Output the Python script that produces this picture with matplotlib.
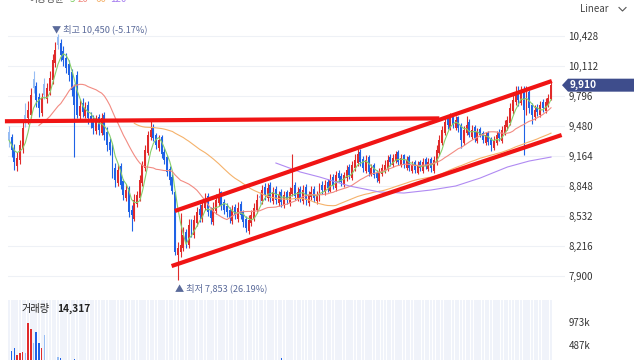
import numpy as np
import pandas as pd
import matplotlib
matplotlib.use("Agg")
import matplotlib.pyplot as plt
from matplotlib.patches import Polygon
from matplotlib.lines import Line2D
from matplotlib.transforms import blended_transform_factory

plt.rcParams['font.family'] = ['Noto Sans CJK KR', 'DejaVu Sans']

# daily candles (oldest -> newest)
opens = [9420, 9360, 9250, 9060, 9120, 9250, 9600, 9560, 9600, 9980,
         9900, 9790, 9620, 9920, 9760, 9850, 9960, 10140, 10420, 10350,
         10270, 10200, 10130, 10050, 9890, 10020, 9590, 9720, 9590, 9700,
         9590, 9550, 9430, 9580, 9410, 9600, 9420, 9310, 9260, 9040,
         8880, 9060, 8900, 8720, 8830, 8600, 8500, 8660, 8720, 8880,
         9040, 9200, 9360, 9470, 9380, 9250, 9360, 9210, 9150, 9030,
         8940, 8780, 8120, 8150, 8190, 8360, 8230, 8470, 8330, 8460,
         8610, 8500, 8620, 8740, 8600, 8470, 8580, 8670, 8780, 8680,
         8640, 8600, 8480, 8630, 8500, 8660, 8570, 8500, 8370, 8460,
         8500, 8590, 8740, 8690, 8840, 8720, 8860, 8690, 8820, 8670,
         8780, 8650, 8780, 8670, 8760, 8860, 8710, 8820, 8690, 8840,
         8670, 8730, 8820, 8690, 8720, 8860, 8780, 8890, 8800, 8940,
         8830, 8990, 8950, 8860, 8930, 9050, 8930, 9040, 9090, 9210,
         9130, 9010, 9150, 8970, 9070, 8990, 8900, 8970, 9010, 9040,
         9150, 9070, 9110, 9210, 9070, 9170, 9040, 9150, 9010, 9100,
         8990, 9100, 9010, 9130, 9030, 9130, 9010, 9090, 9200, 9300,
         9410, 9550, 9460, 9590, 9460, 9570, 9490, 9300, 9410, 9520,
         9360, 9470, 9320, 9450, 9410, 9300, 9410, 9340, 9250, 9300,
         9420, 9320, 9410, 9470, 9510, 9640, 9730, 9850, 9720, 9870,
         9620, 9840, 9700, 9570, 9680, 9600, 9730, 9640, 9700, 9760]
highs = [9480, 9400, 9290, 9210, 9330, 9520, 9720, 9740, 9880, 10060,
         9940, 9830, 9830, 9990, 9930, 10060, 10240, 10360, 10450, 10400,
         10320, 10250, 10170, 10080, 9920, 10060, 9760, 9770, 9730, 9740,
         9630, 9600, 9600, 9610, 9620, 9630, 9470, 9350, 9290, 9090,
         9080, 9090, 8920, 8870, 8850, 8650, 8760, 8800, 8960, 9110,
         9280, 9430, 9530, 9500, 9410, 9380, 9390, 9250, 9170, 9060,
         8970, 8800, 8260, 8560, 8420, 8400, 8500, 8500, 8540, 8630,
         8660, 8700, 8770, 8770, 8630, 8680, 8760, 8830, 8800, 8710,
         8670, 8630, 8650, 8660, 8680, 8690, 8600, 8530, 8540, 8600,
         8670, 8760, 8790, 8860, 8880, 8880, 8890, 8840, 8850, 8800,
         8820, 8800, 8810, 8840, 9180, 8890, 8840, 8850, 8860, 8870,
         8800, 8850, 8850, 8800, 8880, 8900, 8910, 8920, 8970, 8970,
         9010, 9020, 8980, 9000, 9070, 9080, 9110, 9180, 9240, 9240,
         9160, 9170, 9170, 9080, 9090, 9020, 9040, 9080, 9120, 9170,
         9180, 9190, 9220, 9230, 9180, 9190, 9160, 9170, 9110, 9120,
         9110, 9120, 9140, 9150, 9140, 9150, 9160, 9280, 9380, 9480,
         9580, 9600, 9620, 9610, 9590, 9590, 9510, 9480, 9590, 9550,
         9490, 9490, 9460, 9470, 9430, 9420, 9430, 9360, 9370, 9430,
         9450, 9480, 9540, 9590, 9720, 9840, 9900, 9900, 9900, 9900,
         9900, 9860, 9720, 9700, 9710, 9740, 9760, 9780, 9820, 9950]
lows = [9260, 9150, 9020, 9010, 9080, 9200, 9470, 9500, 9560, 9830,
        9680, 9580, 9590, 9760, 9720, 9810, 9920, 10100, 10290, 10160,
        10110, 10040, 9950, 9800, 9150, 9560, 9550, 9580, 9560, 9500,
        9460, 9400, 9400, 9390, 9380, 9330, 9220, 9170, 8930, 8840,
        8850, 8820, 8700, 8690, 8520, 8370, 8480, 8630, 8690, 8850,
        9010, 9170, 9330, 9320, 9240, 9220, 9140, 9080, 8950, 8860,
        8760, 8120, 7853, 8100, 8160, 8200, 8200, 8310, 8300, 8430,
        8470, 8470, 8590, 8530, 8450, 8440, 8550, 8640, 8600, 8550,
        8520, 8460, 8450, 8500, 8470, 8500, 8420, 8360, 8340, 8430,
        8480, 8560, 8660, 8660, 8700, 8690, 8680, 8660, 8660, 8640,
        8630, 8620, 8660, 8640, 8740, 8700, 8690, 8680, 8660, 8650,
        8640, 8700, 8680, 8660, 8690, 8760, 8750, 8790, 8780, 8820,
        8800, 8890, 8850, 8840, 8900, 8920, 8910, 9010, 9060, 9060,
        9000, 8990, 8950, 8950, 8930, 8890, 8880, 8950, 8990, 9010,
        9060, 9050, 9090, 9070, 9050, 9040, 9020, 9010, 8990, 8990,
        8970, 9010, 8990, 9030, 9010, 9000, 8990, 9070, 9170, 9280,
        9380, 9450, 9440, 9460, 9440, 9420, 9250, 9280, 9390, 9360,
        9340, 9310, 9300, 9360, 9300, 9280, 9280, 9220, 9230, 9280,
        9320, 9300, 9390, 9440, 9490, 9610, 9700, 9690, 9700, 9170,
        9600, 9620, 9500, 9540, 9590, 9570, 9630, 9620, 9680, 9750]
closes = [9330, 9230, 9100, 9140, 9280, 9460, 9540, 9650, 9810, 9880,
          9750, 9670, 9780, 9810, 9880, 9990, 10180, 10280, 10330, 10230,
          10180, 10090, 10020, 9860, 9700, 9600, 9690, 9630, 9670, 9560,
          9520, 9460, 9540, 9440, 9560, 9390, 9280, 9230, 9000, 8910,
          9020, 8860, 8750, 8810, 8570, 8540, 8700, 8750, 8910, 9070,
          9230, 9390, 9440, 9350, 9280, 9330, 9180, 9120, 9000, 8910,
          8800, 8150, 8200, 8230, 8330, 8260, 8440, 8360, 8490, 8570,
          8540, 8650, 8700, 8570, 8510, 8620, 8700, 8750, 8650, 8600,
          8570, 8510, 8600, 8540, 8620, 8540, 8470, 8410, 8490, 8540,
          8620, 8700, 8720, 8810, 8750, 8830, 8720, 8790, 8700, 8750,
          8680, 8750, 8700, 8790, 8830, 8740, 8790, 8720, 8810, 8700,
          8750, 8790, 8720, 8750, 8830, 8810, 8860, 8830, 8910, 8860,
          8960, 8930, 8890, 8960, 9020, 8960, 9070, 9120, 9180, 9100,
          9040, 9120, 9000, 9040, 8960, 8930, 9000, 9040, 9070, 9120,
          9100, 9140, 9180, 9100, 9140, 9070, 9120, 9040, 9070, 9020,
          9070, 9040, 9100, 9060, 9100, 9040, 9120, 9230, 9330, 9440,
          9520, 9490, 9560, 9490, 9540, 9460, 9330, 9440, 9490, 9390,
          9440, 9350, 9420, 9390, 9330, 9380, 9310, 9280, 9330, 9390,
          9350, 9440, 9490, 9540, 9670, 9750, 9810, 9750, 9840, 9650,
          9810, 9670, 9600, 9650, 9630, 9700, 9670, 9730, 9780, 9910]
volumes = [150000, 365000, 423000, 275000, 317000, 338000, 317000, 951000, 824000, 528000,
           761000, 528000, 423000, 697000, 160000, 140000, 150000, 130000, 232000, 211000,
           120000, 110000, 130000, 150000, 190000, 140000, 100000, 90000, 85000, 95000,
           80000, 90000, 75000, 85000, 70000, 95000, 110000, 90000, 140000, 120000,
           100000, 110000, 130000, 90000, 150000, 160000, 120000, 90000, 110000, 130000,
           140000, 120000, 100000, 90000, 80000, 75000, 90000, 85000, 100000, 110000,
           150000, 165000, 160000, 130000, 110000, 90000, 100000, 80000, 85000, 90000,
           70000, 75000, 80000, 65000, 60000, 70000, 75000, 80000, 60000, 55000,
           60000, 65000, 55000, 50000, 60000, 55000, 65000, 70000, 60000, 55000,
           60000, 70000, 65000, 75000, 60000, 70000, 55000, 60000, 50000, 55000,
           211000, 90000, 60000, 65000, 150000, 70000, 60000, 55000, 60000, 50000,
           55000, 60000, 50000, 45000, 65000, 55000, 70000, 60000, 80000, 65000,
           90000, 70000, 60000, 75000, 85000, 70000, 95000, 100000, 110000, 80000,
           70000, 85000, 75000, 60000, 70000, 55000, 65000, 60000, 70000, 80000,
           65000, 70000, 75000, 60000, 55000, 65000, 60000, 70000, 55000, 50000,
           55000, 60000, 65000, 50000, 60000, 55000, 80000, 110000, 130000, 140000,
           150000, 120000, 110000, 100000, 95000, 90000, 120000, 85000, 90000, 80000,
           75000, 70000, 65000, 60000, 70000, 60000, 65000, 70000, 60000, 75000,
           65000, 80000, 90000, 100000, 140000, 150000, 130000, 110000, 120000, 160000,
           130000, 110000, 90000, 80000, 75000, 70000, 65000, 70000, 80000, 14317]

# 120-day average (needs history before the window)
ma120_idx = [98, 107, 114, 125, 136, 145, 155, 164, 173, 183, 191, 199]
ma120_val = [9090, 8995, 8943, 8848, 8785, 8774, 8806, 8848, 8932, 9048, 9111, 9153]

price_ticks = [7900, 8216, 8532, 8848, 9164, 9480, 9796, 10112, 10428]
vol_ticks = [487000, 973000]
vol_labels = ['487k', '973k']

# hand-drawn trend lines: (index, price) end points
support_x, support_y = [-1.5, 158], [9530, 9560]
chan_top_x, chan_top_y = [60.9, 199.3], [8585, 9954]
chan_bot_x, chan_bot_y = [59.7, 202.9], [8005, 9385]

last_price = 9910
hi_idx, hi_text = 18, '▼ 최고 10,450 (-5.17%)'
lo_idx, lo_text = 62, '▲ 최저 7,853 (26.19%)'
vol_title, vol_value = '거래량', '14,317'
legend_items = [('이동평균', '#555555'), ('5', '#7fcc63'), ('20', '#f28b82'),
                ('60', '#f5b26b'), ('120', '#a77ff0')]

RED, RED_L = '#e02b2b', '#f3a4a4'
BLUE, BLUE_L = '#1f62e6', '#97bdf4'

o = np.array(opens, float)
c = np.array(closes, float)
idx = np.arange(len(c))
prev = np.r_[c[0], c[:-1]]
up = c >= o
agree = (c >= prev) == up
colors = np.where(up, np.where(agree, RED, RED_L), np.where(agree, BLUE, BLUE_L))

s = pd.Series(closes, dtype=float)
ma5 = s.rolling(5, min_periods=1).mean()
ma20 = s.rolling(20, min_periods=12).mean()
ma60 = s.rolling(60, min_periods=47).mean()

W, H = 640, 360
fig = plt.figure(figsize=(6.4, 3.6), dpi=100)
fig.patch.set_facecolor('white')


def fx(px):
    return px / W


def fy(py):
    return 1 - py / H


ax = fig.add_axes([fx(8), fy(292), fx(557), 278 / H])
vax = fig.add_axes([fx(8), 0, fx(557), 60 / H])

xlim = (-1 / 2.7236, 199 + 14 / 2.7236)

# price panel
ax.vlines(idx, lows, highs, colors=colors, lw=0.8, zorder=2)
ax.bar(idx, np.maximum(np.abs(c - o), 8), bottom=np.minimum(o, c), width=0.72,
       color=colors, zorder=3)
ax.plot(idx, ma5, color='#86cf6a', lw=0.8, zorder=4)
ax.plot(idx, ma20, color='#f28b82', lw=0.8, zorder=4)
ax.plot(idx, ma60, color='#f5b26b', lw=0.8, zorder=4)
ax.plot(ma120_idx, ma120_val, color='#b08af2', lw=0.8, zorder=4)

for lx, ly in [(support_x, support_y), (chan_top_x, chan_top_y), (chan_bot_x, chan_bot_y)]:
    ax.plot(lx, ly, color='#f01414', lw=3.0, solid_capstyle='butt', zorder=6, clip_on=False)

ax.set_xlim(*xlim)
ax.set_ylim(7731.5, 10659.7)
ax.set_yticks(price_ticks)
ax.set_yticklabels([f'{t:,}' for t in price_ticks])
ax.yaxis.tick_right()
ax.tick_params(axis='y', length=0, pad=2.5, labelsize=7, labelcolor='#333333')
ax.set_xticks([])
ax.grid(axis='y', color='#eef1f6', lw=0.8)
ax.set_axisbelow(True)
for sp in ax.spines.values():
    sp.set_visible(False)

ax.annotate(hi_text, xy=(hi_idx, highs[hi_idx]), xytext=(-6, 0), textcoords='offset pixels',
            ha='left', va='bottom', fontsize=6.6, color='#5a6a9a')
ax.annotate(lo_text, xy=(lo_idx, lows[lo_idx]), xytext=(-3, -3), textcoords='offset pixels',
            ha='left', va='top', fontsize=6.6, color='#5a6a9a')

# last price tag
tr = blended_transform_factory(ax.transAxes, ax.transData)
ppx = 10.533
tag = Polygon([(fx(554) / fx(557), last_price), (fx(560) / fx(557), last_price + 6.5 * ppx),
               (fx(626) / fx(557), last_price + 6.5 * ppx), (fx(626) / fx(557), last_price - 6.5 * ppx),
               (fx(560) / fx(557), last_price - 6.5 * ppx)],
              closed=True, transform=tr, facecolor='#3e4d8c', edgecolor='none',
              clip_on=False, zorder=7)
ax.add_patch(tag)
ax.text(fx(562) / fx(557), last_price, f'{last_price:,}', transform=tr, color='white',
        fontsize=7.3, fontweight='bold', va='center', ha='left', zorder=8, clip_on=False)

# volume panel
vlo, vhi = 169000, 1438000
vax.bar(idx, vhi - vlo, bottom=vlo, width=0.78, color='#f0f3fa', zorder=0)
vax.bar(idx, volumes, width=0.55, color=colors, zorder=2)
vax.set_xlim(*xlim)
vax.set_ylim(vlo, vhi)
vax.set_yticks(vol_ticks)
vax.set_yticklabels(vol_labels)
vax.yaxis.tick_right()
vax.tick_params(axis='y', length=0, pad=2.5, labelsize=7, labelcolor='#333333')
vax.set_xticks([])
for sp in vax.spines.values():
    sp.set_visible(False)

fig.text(fx(22), fy(309), vol_title, fontsize=7.3, color='#222222', va='center')
fig.text(fx(57), fy(309), vol_value, fontsize=7.3, color='#222222', va='center',
         fontweight='bold')

# top strip (cut off by the frame, as in the source)
lx_pos = [28, 70, 78, 95, 110]
for (txt, col), px in zip(legend_items, lx_pos):
    fig.text(fx(px), fy(-1), txt, fontsize=7, color=col, va='center', ha='left')

fig.text(fx(580), fy(9), 'Linear', fontsize=7, color='#444444', va='center', ha='left')
fig.add_artist(Line2D([fx(619), fx(622.5), fx(626)], [fy(7.5), fy(11), fy(7.5)],
                      transform=fig.transFigure, color='#555555', lw=0.8))

fig.savefig('out.png', dpi=100)
